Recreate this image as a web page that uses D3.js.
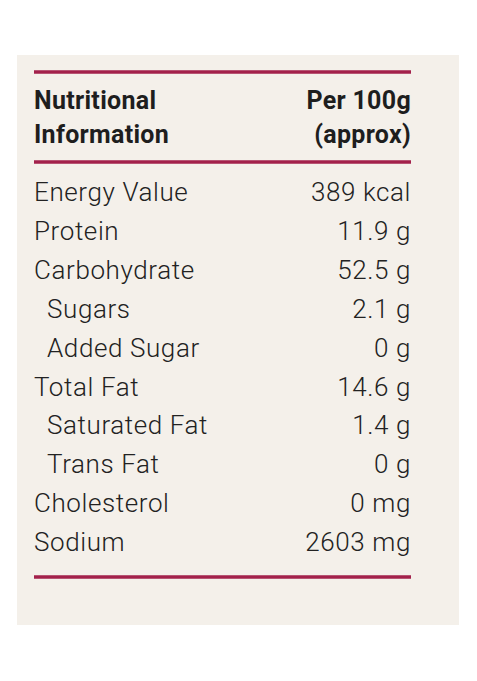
<!DOCTYPE html><html><head><meta charset="utf-8">
<script src="https://cdn.jsdelivr.net/npm/d3@7"></script>
<style>body{margin:0;background:#fff}</style></head><body>
<script>
const nutrients=["Energy Value","Protein","Carbohydrate","Sugars","Added Sugar","Total Fat","Saturated Fat","Trans Fat","Cholesterol","Sodium"];
const amounts=["389 kcal","11.9 g","52.5 g","2.1 g","0 g","14.6 g","1.4 g","0 g","0 mg","2603 mg"];
const indented=[false,false,false,true,true,false,true,true,false,false];
const headerLeft=["Nutritional","Information"];
const headerRight=["Per 100g","(approx)"];
const W=477,H=681;
const svg=d3.select("body").append("svg").attr("width",W).attr("height",H);
svg.append("rect").attr("x",17).attr("y",55).attr("width",442).attr("height",570).attr("fill","#f4f0ea");
const y=d3.scaleBand().domain(d3.range(nutrients.length)).range([172.5,561]);
const red="#a3214b",font="Roboto, sans-serif";
[72,162,577].forEach(v=>svg.append("line").attr("x1",34).attr("x2",411).attr("y1",v).attr("y2",v).attr("stroke",red).attr("stroke-width",3.5));
const hy=d3.scaleBand().domain([0,1]).range([83,151]);
headerLeft.forEach((t,i)=>svg.append("text").attr("x",34).attr("y",hy(i)+hy.bandwidth()/2).attr("dy","0.36em").attr("font-family",font).attr("font-weight",700).attr("font-size",25).attr("letter-spacing",0.3).attr("fill","#1e1e1e").text(t));
headerRight.forEach((t,i)=>svg.append("text").attr("x",411).attr("y",hy(i)+hy.bandwidth()/2).attr("dy","0.36em").attr("text-anchor","end").attr("font-family",font).attr("font-weight",700).attr("font-size",25).attr("letter-spacing",0.3).attr("fill","#1e1e1e").text(t));
const g=svg.append("g").attr("font-family",font).attr("font-size",26).attr("fill","#222").attr("font-weight",300).attr("letter-spacing",0.6);
nutrients.forEach((n,i)=>{
 const cy=y(i)+y.bandwidth()/2;
 g.append("text").attr("x",indented[i]?47:34).attr("y",cy).attr("dy","0.36em").text(n);
 g.append("text").attr("x",411).attr("y",cy).attr("dy","0.36em").attr("text-anchor","end").text(amounts[i]);
});
</script></body></html>
